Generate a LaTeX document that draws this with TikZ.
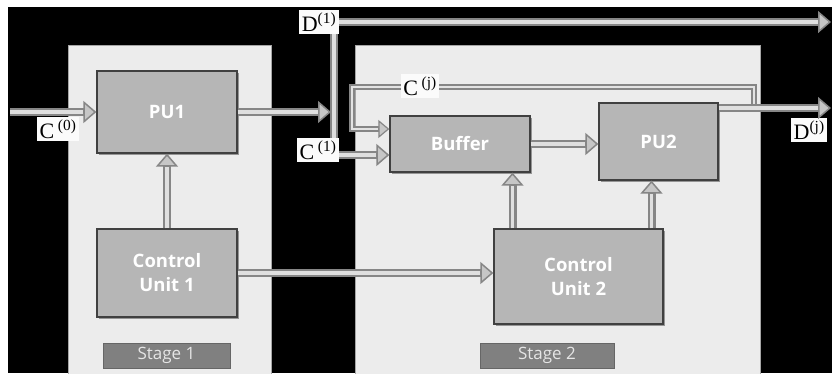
\documentclass[tikz,border=0pt]{standalone}
\usepackage{fontspec}
\setmainfont{Liberation Serif}
\setsansfont{Open Sans}
\usetikzlibrary{arrows.meta,shadows,positioning}
\tikzset{
	panel/.style = {draw = gray!70, fill = gray!15, line width = 1pt},
	unit/.style = {draw = black!75, fill = gray!57, line width = 1.3pt, text = white, font = \sffamily\bfseries\fontsize{18.5}{24}\selectfont, align = center, drop shadow = {shadow xshift = 2pt, shadow yshift = -2pt, opacity = 0.8}},
	stagebox/.style = {draw = black!60, fill = gray!100, line width = 1pt, text = gray!20, font = \sffamily\fontsize{17}{18}\selectfont, minimum width = 127pt, minimum height = 25pt, inner sep = 0pt},
	tag/.style = {fill = gray!3, inner sep = 2.5pt, font = \fontsize{22}{23}\selectfont},
	pipe/.style = {draw = gray!95, line width = 8pt, -{Triangle[length = 13pt, width = 22pt, line width = 1.5pt, fill = gray!45]}, postaction = {draw = gray!25, line width = 3.5pt, -, shorten > = 13pt}},
	bar/.style = {draw = gray!95, line width = 8pt, postaction = {draw = gray!25, line width = 3.5pt}},
	thinpipe/.style = {draw = gray!95, line width = 6pt, -{Triangle[length = 11pt, width = 18pt, line width = 1.2pt, fill = gray!45]}, postaction = {draw = gray!22, line width = 2.5pt, -, shorten > = 11pt}},
	thinbar/.style = {draw = gray!95, line width = 6pt, postaction = {draw = gray!22, line width = 2.5pt}}
}
\begin{document}
\begin{tikzpicture} [x = 1pt, y = -1pt]
	\useasboundingbox (0,0) rectangle (832,373);
	\fill [black] (8,7) rectangle (832,373);
	\draw [panel] (68,45) rectangle (271,380);
	\draw [panel] (355,45) rectangle (760,380);

	\node [unit, minimum width = 140pt, minimum height = 82pt] (pu1) at (167,112) {PU1};
	\node [unit, minimum width = 140pt, minimum height = 88pt] (cu1) at (167,273) {Control\\Unit 1};
	\node [stagebox] (stage1) at (166.5,355.5) {Stage 1};
	\node [unit, minimum width = 140pt, minimum height = 56pt] (buf) at (460,144) {Buffer};
	\node [unit, minimum width = 119pt, minimum height = 77pt] (pu2) at (658.5,141.5) {PU2};
	\node [unit, minimum width = 169pt, minimum height = 95pt] (cu2) at (578.5,276.5) {Control\\Unit 2};
	\node [stagebox, minimum width = 134pt] (stage2) at (547,355.5) {Stage 2};

	\node [tag] (lc0) at (58,129) {C\,\textsuperscript{(0)}};
	\node [tag] (ld1) at (319,22) {D\textsuperscript{(1)}};
	\node [tag] (lc1) at (318,150) {C\,\textsuperscript{(1)}};
	\node [tag] (lcj) at (420,86) {C\,\textsuperscript{(j)}};
	\node [tag, anchor = west] (ldj) at (791,130) {D\textsuperscript{(j)}};

	\coordinate (in0) at (10,112);
	\coordinate (j1) at (331,112);
	\coordinate (d1out) at (831,22);
	\coordinate (djout) at (831,108);
	\coordinate (tapj) at (754,108);
	\coordinate (bendj) at (352,87);

	\draw [bar] ([xshift = -5pt]ld1.south east) -- ([xshift = -5pt]ld1.south east |- lc1.north);
	\draw [pipe] (in0) -- (pu1.west |- in0);
	\draw [pipe] (pu1.east |- j1) -- (j1);
	\draw [pipe] (ld1.east) -- (d1out);
	\draw [pipe] ([yshift = -5pt]lc1.east) -- ([yshift = -5pt]lc1.east -| buf.west);
	\draw [thinbar] (tapj) -- (tapj |- bendj) -- (lcj.east |- bendj);
	\draw [thinpipe] (lcj.west |- bendj) -- (bendj) -- (bendj |- 0,129) -- (buf.west |- 0,129);
	\draw [pipe] (pu2.east |- djout) -- (djout);
	\draw [pipe] (buf.east) -- (buf.east -| pu2.west);
	\draw [pipe] (cu1.north) -- (pu1.south);
	\draw [pipe] (cu1.east) -- (cu1.east -| cu2.west);
	\draw [pipe] ([xshift = -66pt]cu2.north) -- ([xshift = -66pt]cu2.north |- buf.south);
	\draw [pipe] ([xshift = 73pt]cu2.north) -- ([xshift = 73pt]cu2.north |- pu2.south);
\end{tikzpicture}
\end{document}
